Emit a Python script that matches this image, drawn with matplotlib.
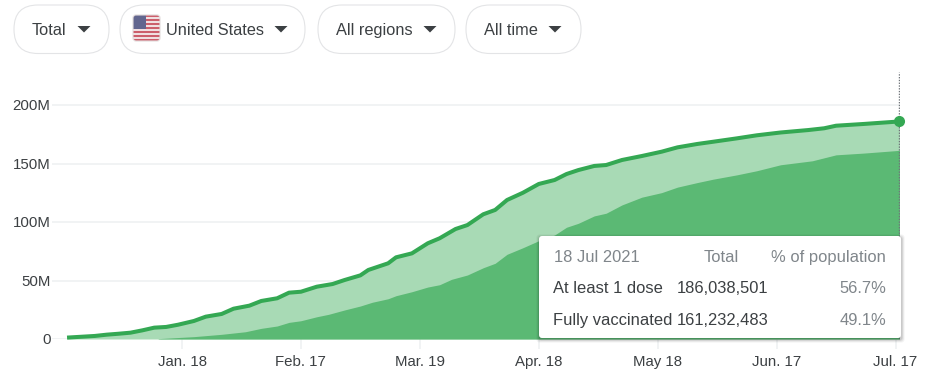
import matplotlib
matplotlib.use("Agg")
import matplotlib.pyplot as plt
from matplotlib.patches import FancyBboxPatch, Rectangle, Polygon

plt.rcParams['font.family'] = ['Liberation Sans', 'DejaVu Sans']

# days since 18 Jan 2021, values in millions
dose_days = [-29,-22,-19,-16,-13,-10,-7,-4,-1,3,6,10,13,17,20,24,27,30,34,38,41,45,47,52,54,58,62,65,69,72,76,79,82,86,90,94,97,100,104,107,111,116,121,125,130,134,140,145,151,158,162,165,172,180,181]
dose_vals = [1.2,2.6,3.7,4.5,5.4,7.4,9.7,10.3,12.2,15.4,19.1,21.4,25.9,28.5,32.5,34.8,39.6,40.4,44.7,47,50.4,54.4,59,64.7,69.8,73.2,81.8,86.1,94,97.4,106.6,110.3,118.8,125,132.5,135.9,141,144.4,147.9,148.7,153,156.4,160.1,163.8,166.7,168.6,171.5,174.1,176.5,178.6,180.1,182.3,183.8,185.7,186.04]
full_days = [-6,3,10,16,20,24,27,30,34,37,41,45,48,52,54,58,62,65,68,72,76,79,82,86,90,94,97,100,104,107,111,116,121,125,130,134,140,145,151,159,165,172,181]
full_vals = [0.3,2,4,6.2,9.1,11.1,14.2,15.6,19,21.1,24.8,28.2,31.4,34.4,37,40.4,44.4,46.4,51,54.7,60.9,64.7,72.4,78,84,88.9,95.5,98.9,105.2,107.5,114.6,121.2,125.1,129.8,133.7,136.6,140.3,143.8,148.9,152.3,157.4,158.9,161.23]

y_ticks = [0, 50, 100, 150, 200]
y_labels = ['0', '50M', '100M', '150M', '200M']
x_ticks = [0, 30, 60, 90, 120, 150, 180]
x_labels = ['Jan. 18', 'Feb. 17', 'Mar. 19', 'Apr. 18', 'May 18', 'Jun. 17', 'Jul. 17']
filters = ['Total', 'United States', 'All regions', 'All time']
tip_header = ['18 Jul 2021', 'Total', '% of population']
tip_names = ['At least 1 dose', 'Fully vaccinated']
tip_totals = ['186,038,501', '161,232,483']
tip_pcts = ['56.7%', '49.1%']

W, H = 926, 389
GRID, TXT, GRAY = '#f1f3f4', '#3c4043', '#80868b'
fig = plt.figure(figsize=(W/100, H/100), dpi=100, facecolor='white')

L, R, T, B = 52, 900, 72, 339
ax = fig.add_axes([L/W, 1-B/H, (R-L)/W, (B-T)/H])
px_day = 3.964
ax.set_xlim((L-182)/px_day, (R-182)/px_day)
ax.set_ylim(0, (B-T)/(58.5/50))
for s in ax.spines.values():
    s.set_visible(False)
ax.set_yticks(y_ticks, y_labels)
ax.set_xticks(x_ticks, x_labels)
ax.tick_params(axis='y', length=0, pad=1, labelsize=10.8, labelcolor=TXT)
ax.tick_params(axis='x', length=7.2, width=1.4, color=GRID, pad=4, labelsize=10.8, labelcolor=TXT)
ax.grid(axis='y', color=GRID, lw=1.4, zorder=0)
ax.set_axisbelow(True)

ax.fill_between(dose_days, dose_vals, 0, color='#a8dab5', lw=0, zorder=2)
ax.fill_between(full_days, full_vals, 0, color='#5bb974', lw=0, zorder=3)
ax.plot(dose_days, dose_vals, color='#34a853', lw=2.9, zorder=4,
        solid_joinstyle='round', solid_capstyle='butt', clip_on=False)
ax.axvline(dose_days[-1], color='#70757a', lw=1, ls=(0, (1, 1)), zorder=5)
ax.plot(dose_days[-1], dose_vals[-1], 'o', color='#34a853', ms=8, mew=0, zorder=6, clip_on=False)

# overlay in pixel units for the filter controls and the tooltip
ov = fig.add_axes([0, 0, 1, 1], facecolor='none')
ov.set_xlim(0, W)
ov.set_ylim(H, 0)
ov.axis('off')

def caret(cx):
    ov.add_patch(Polygon([(cx-6.5, 26), (cx+6.5, 26), (cx, 32.5)], fc=TXT, ec='none'))

pills = [(14, 109, 32, 84), (120, 305, 166, 281), (318, 455, 336, 430), (466, 581, 484, 555)]
for name, (x0, x1, tx, cx) in zip(filters, pills):
    ov.add_patch(FancyBboxPatch((x0+24, 29), x1-x0-48, 0.5, boxstyle='round,pad=24',
                                fc='white', ec='#e3e4e6', lw=0.8))
    ov.text(tx, 29, name, fontsize=11.8, color=TXT, ha='left', va='center_baseline')
    caret(cx)

# flag
fx0, fx1, fy0, fy1 = 133, 160, 15, 41
clip = FancyBboxPatch((fx0+1, fy0+1), fx1-fx0-2, fy1-fy0-2, boxstyle='round,pad=1,rounding_size=3',
                      fc='none', ec='#e2dcdc', lw=0.8, transform=ov.transData)
n_st = 13
sh = (fy1-fy0)/n_st
for i in range(n_st):
    r = Rectangle((fx0, fy0+i*sh), fx1-fx0, sh, fc='#cc5f6c' if i % 2 == 0 else '#f0dfe1', ec='none')
    ov.add_patch(r)
    r.set_clip_path(clip)
r = Rectangle((fx0, fy0), 13, 7*sh, fc='#62668f', ec='none')
ov.add_patch(r)
r.set_clip_path(clip)
ov.add_patch(clip)

# tooltip
bx0, by0, bx1, by1 = 539, 236, 901, 338
for off, a in [(3.0, .05), (2.0, .07), (1.0, .10)]:
    ov.add_patch(FancyBboxPatch((bx0-off+0.5, by0-off+1.5), bx1-bx0+2*off, by1-by0+2*off,
                                boxstyle='round,pad=0,rounding_size=3', fc='black', ec='none', alpha=a, zorder=9))
ov.add_patch(FancyBboxPatch((bx0, by0), bx1-bx0, by1-by0, boxstyle='round,pad=0,rounding_size=3',
                            fc='white', ec='none', zorder=10))
FS = 11.9
ov.text(554, 256, tip_header[0], fontsize=FS, color=GRAY, va='center_baseline', zorder=11)
ov.text(739, 256, tip_header[1], fontsize=FS, color=GRAY, va='center_baseline', ha='right', zorder=11)
ov.text(886, 256, tip_header[2], fontsize=FS, color=GRAY, va='center_baseline', ha='right', zorder=11)
for y, n, t, p in zip([287, 319], tip_names, tip_totals, tip_pcts):
    ov.text(553, y, n, fontsize=FS, color=TXT, va='center_baseline', zorder=11)
    ov.text(677, y, t, fontsize=FS, color=TXT, va='center_baseline', zorder=11)
    ov.text(886, y, p, fontsize=FS, color=GRAY, va='center_baseline', ha='right', zorder=11)

fig.savefig('out.png', dpi=100, facecolor='white')
